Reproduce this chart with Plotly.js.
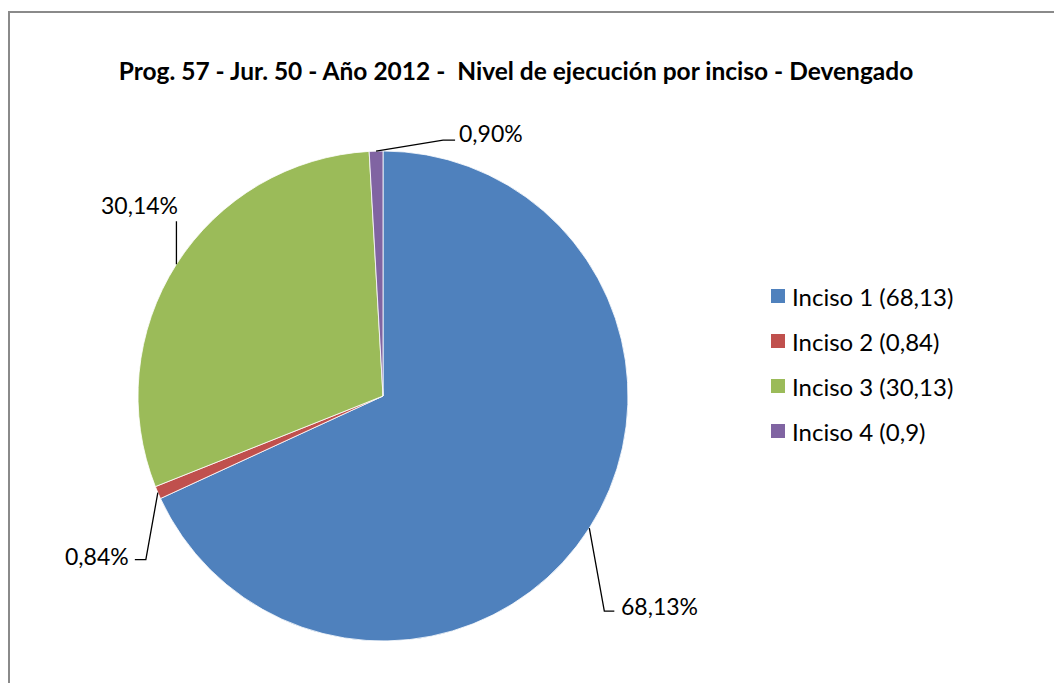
<!DOCTYPE html>
<html><head><meta charset="utf-8">
<script src="https://cdn.plot.ly/plotly-3.0.1.min.js"></script>
<style>
html,body{margin:0;padding:0;overflow:hidden;background:#fff}
#wrap{position:relative;width:1054px;height:683px}
#chart{width:1054px;height:683px}
#frame{position:absolute;left:8px;top:11px;width:1100px;height:720px;border:2px solid #8a8a8a;pointer-events:none;box-sizing:border-box}
</style></head><body>
<div id="wrap"><div id="chart"></div><div id="frame"></div></div>
<script>
// ---- data ----
const categories = ['Inciso 1 (68,13)', 'Inciso 2 (0,84)', 'Inciso 3 (30,13)', 'Inciso 4 (0,9)'];
const values = [68.13, 0.84, 30.13, 0.9];
const pctLabels = ['68,13%', '0,84%', '30,14%', '0,90%'];
const colors = ['#4F81BD', '#C0504D', '#9BBB59', '#8064A2'];
const titleText = 'Prog. 57 - Jur. 50 - Año 2012 - \u00a0Nivel de ejecución por inciso - Devengado';

// ---- layout geometry (pixels) ----
const W = 1054, H = 683;
const cx = 383, cy = 396, R = 245;
const px = x => x / W;
const py = y => 1 - y / H;

// leader-line layout for each label: elbow offset from slice edge, tail length, text offset from tail end
const leader = [
  {elbow: [15, 83],  tail: 10,  text: [5, -5],   xa: 'left',   ya: 'middle'},
  {elbow: [-12, 67], tail: -11, text: [-4, -4],  xa: 'right',  ya: 'middle'},
  {elbow: [0, -43],  tail: 0,   text: [-37, -16], xa: 'center', ya: 'middle'},
  {elbow: [67, -11], tail: 12,  text: [2, -7],   xa: 'left',   ya: 'middle'}
];

const total = values.reduce((a, b) => a + b, 0);
const labelFont = {family: 'Lato, sans-serif', size: 23, color: '#000'};
const legendFont = {family: 'Lato, sans-serif', size: 24, color: '#000'};

const shapes = [];
const annotations = [];
let cum = 0;
values.forEach((v, i) => {
  const mid = (cum + v / 2) / total * 2 * Math.PI; // clockwise from 12 o'clock
  cum += v;
  const ex = cx + R * Math.sin(mid);
  const ey = cy - R * Math.cos(mid);
  const L = leader[i];
  const bx = ex + L.elbow[0], by = ey + L.elbow[1];
  const tx = bx + L.tail, ty = by;
  shapes.push({
    type: 'path', xref: 'paper', yref: 'paper',
    path: `M ${px(ex)} ${py(ey)} L ${px(bx)} ${py(by)} L ${px(tx)} ${py(ty)}`,
    line: {color: '#000', width: 1.3}
  });
  annotations.push({
    xref: 'paper', yref: 'paper', x: px(tx + L.text[0]), y: py(ty + L.text[1]),
    xanchor: L.xa, yanchor: L.ya, text: pctLabels[i], showarrow: false, font: labelFont
  });
});

// custom legend
const legX = 771, legY0 = 296, legGap = 45, sq = 14;
categories.forEach((c, i) => {
  const yc = legY0 + i * legGap;
  shapes.push({
    type: 'rect', xref: 'paper', yref: 'paper',
    x0: px(legX), x1: px(legX + sq), y0: py(yc - sq / 2), y1: py(yc + sq / 2),
    fillcolor: colors[i], line: {width: 0}
  });
  annotations.push({
    xref: 'paper', yref: 'paper', x: px(legX + 19), y: py(yc),
    xanchor: 'left', yanchor: 'middle', text: c, showarrow: false, font: legendFont
  });
});

const trace = {
  type: 'pie',
  labels: categories,
  values: values,
  sort: false,
  direction: 'clockwise',
  rotation: 0,
  textinfo: 'none',
  hoverinfo: 'label+percent',
  marker: {colors: colors, line: {color: '#ffffff', width: 0.8}},
  domain: {x: [px(cx - R), px(cx + R)], y: [py(cy + R), py(cy - R)]},
  showlegend: false
};

const layout = {
  width: W, height: H,
  margin: {l: 0, r: 0, t: 0, b: 0},
  paper_bgcolor: '#ffffff',
  plot_bgcolor: '#ffffff',
  showlegend: false,
  title: {
    text: '<b>' + titleText + '</b>',
    x: px(516), xanchor: 'center', xref: 'paper',
    y: py(71), yanchor: 'middle', yref: 'container',
    font: {family: 'Lato, sans-serif', size: 24.5, color: '#000'}
  },
  shapes: shapes,
  annotations: annotations
};

Plotly.newPlot('chart', [trace], layout, {displayModeBar: false, staticPlot: true});
</script>
</body></html>
